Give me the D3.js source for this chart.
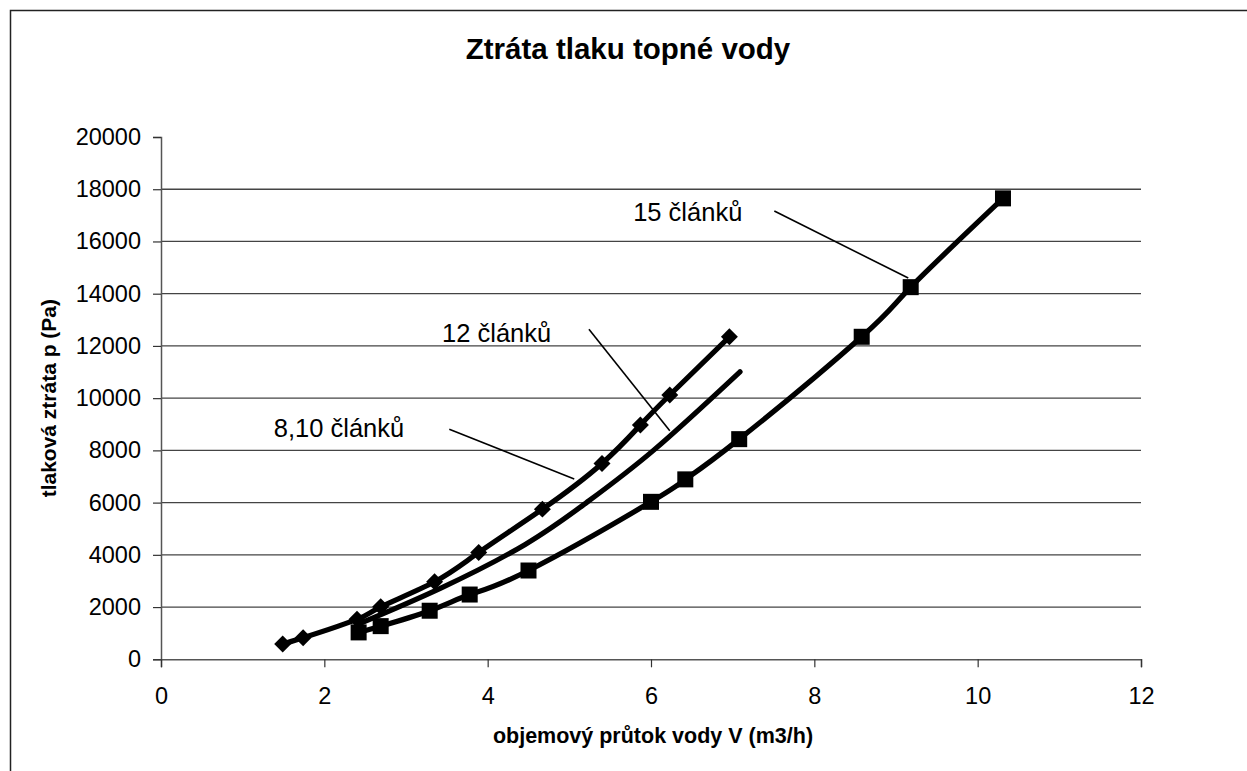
<!DOCTYPE html>
<html>
<head>
<meta charset="utf-8">
<script src="https://cdn.jsdelivr.net/npm/d3@7"></script>
<style>
  body { margin: 0; background: #fff; }
  svg { display: block; }
  text { font-family: "Liberation Sans", Arial, sans-serif; fill: #000; }
</style>
</head>
<body>
<div id="chart"></div>
<script>
// 8,10 clanku (diamonds)
const xDiamond = [1.49, 1.74, 2.40, 2.69, 3.35, 3.89, 4.67, 5.40, 5.87, 6.23, 6.96];
const yDiamond = [590, 827, 1530, 2010, 2970, 4090, 5750, 7500, 8970, 10120, 12350];

// 12 clanku (no markers)
const xMiddle = [2.44, 3.42, 4.46, 5.21, 6.03, 7.09];
const yMiddle = [1380, 2718, 4400, 6000, 8000, 11010];

// 15 clanku (squares)
const xSquare = [2.42, 2.69, 3.29, 3.78, 4.50, 6.00, 6.42, 7.08, 8.58, 9.18, 10.31];
const ySquare = [1030, 1270, 1860, 2480, 3400, 6030, 6890, 8430, 12350, 14250, 17650];

const xTicks = [0, 2, 4, 6, 8, 10, 12];
const yTicks = [0, 2000, 4000, 6000, 8000, 10000, 12000, 14000, 16000, 18000, 20000];

// annotations: label, label position, leader line start/end (data units)
const noteLabels = ["15 článků", "12 článků", "8,10 článků"];
const noteText = [[6.45, 17125], [4.11, 12492], [2.18, 8855]];
const noteFrom = [[7.51, 17164], [5.24, 12634], [3.53, 8806]];
const noteTo = [[9.15, 14600], [6.23, 8752], [5.06, 6903]];

const W = 1247, H = 771;
const plotL = 161, plotR = 1141, plotT = 137, plotB = 659.3;

const svg = d3.select("#chart").append("svg")
  .attr("width", W)
  .attr("height", H);

svg.append("rect")
  .attr("x", 10.5).attr("y", 10.5)
  .attr("width", 1300).attr("height", 900)
  .attr("fill", "none")
  .attr("stroke", "#222")
  .attr("stroke-width", 1.5);

const x = d3.scaleLinear().domain([0, 12]).range([plotL, plotR]);
const y = d3.scaleLinear().domain([0, 20000]).range([plotB, plotT]);

// gridlines
svg.append("g")
  .selectAll("line")
  .data(yTicks.filter(d => d > 0 && d < 20000))
  .enter()
  .append("line")
  .attr("x1", plotL).attr("x2", plotR)
  .attr("y1", d => y(d)).attr("y2", d => y(d))
  .attr("stroke", "#444")
  .attr("stroke-width", 1.3);

// axes
const yAxis = svg.append("g")
  .attr("transform", `translate(${plotL},0)`)
  .call(d3.axisLeft(y).tickValues(yTicks).tickSize(8).tickPadding(12).tickFormat(d3.format("d")));
const xAxis = svg.append("g")
  .attr("transform", `translate(0,${plotB})`)
  .call(d3.axisBottom(x).tickValues(xTicks).tickSize(8).tickPadding(20).tickFormat(d3.format("d")));

[xAxis, yAxis].forEach(a => {
  a.select(".domain").attr("stroke", "#555").attr("stroke-width", 1.5);
  a.selectAll(".tick line").attr("stroke", "#333").attr("stroke-width", 1.2);
  a.selectAll("text")
    .style("font-family", '"Liberation Sans", Arial, sans-serif')
    .style("font-size", "23.5px")
    .attr("fill", "#000");
});

// title
svg.append("text")
  .attr("x", 628).attr("y", 59)
  .attr("text-anchor", "middle")
  .style("font-size", "29.5px")
  .style("font-weight", "bold")
  .text("Ztráta tlaku topné vody");

// axis titles
svg.append("text")
  .attr("x", 653).attr("y", 743)
  .attr("text-anchor", "middle")
  .style("font-size", "21.5px")
  .style("font-weight", "bold")
  .text("objemový průtok vody V (m3/h)");

svg.append("text")
  .attr("transform", `translate(56,${(plotT + plotB) / 2}) rotate(-90)`)
  .attr("text-anchor", "middle")
  .style("font-size", "21px")
  .style("font-weight", "bold")
  .text("tlaková ztráta p (Pa)");

// leader lines + labels
noteLabels.forEach((lab, i) => {
  svg.append("line")
    .attr("x1", x(noteFrom[i][0])).attr("y1", y(noteFrom[i][1]))
    .attr("x2", x(noteTo[i][0])).attr("y2", y(noteTo[i][1]))
    .attr("stroke", "#000")
    .attr("stroke-width", 1.6);
  svg.append("text")
    .attr("x", x(noteText[i][0])).attr("y", y(noteText[i][1]))
    .attr("text-anchor", "middle")
    .attr("dominant-baseline", "central")
    .style("font-size", "25.5px")
    .text(lab);
});

// series lines
const line = d3.line()
  .x(d => x(d[0]))
  .y(d => y(d[1]))
  .curve(d3.curveNatural);

const series = [
  d3.zip(xDiamond, yDiamond),
  d3.zip(xMiddle, yMiddle),
  d3.zip(xSquare, ySquare)
];

svg.append("g")
  .selectAll("path")
  .data(series)
  .enter()
  .append("path")
  .attr("d", line)
  .attr("fill", "none")
  .attr("stroke", "#000")
  .attr("stroke-width", 5.2)
  .attr("stroke-linecap", "round");

// markers
svg.append("g")
  .selectAll("rect")
  .data(series[0])
  .enter()
  .append("rect")
  .attr("x", -6).attr("y", -6)
  .attr("width", 12).attr("height", 12)
  .attr("transform", d => `translate(${x(d[0])},${y(d[1])}) rotate(45)`)
  .attr("fill", "#000");

svg.append("g")
  .selectAll("rect")
  .data(series[2])
  .enter()
  .append("rect")
  .attr("x", d => x(d[0]) - 8)
  .attr("y", d => y(d[1]) - 8)
  .attr("width", 16).attr("height", 16)
  .attr("fill", "#000");
</script>
</body>
</html>
